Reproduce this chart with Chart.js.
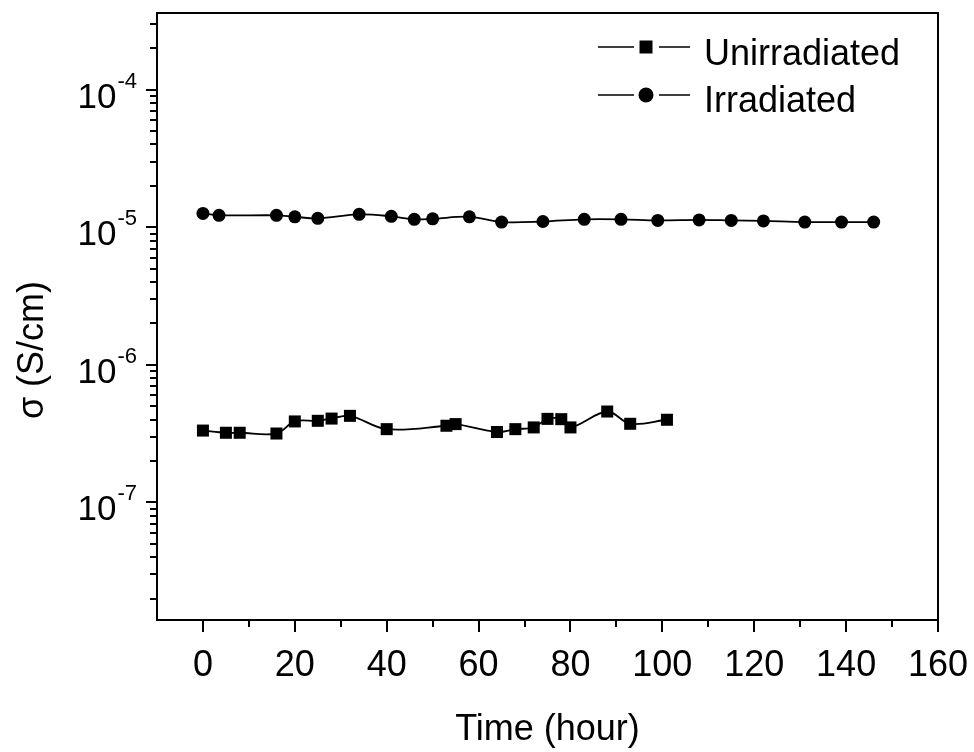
<!DOCTYPE html>
<html>
<head>
<meta charset="utf-8">
<script src="https://cdn.jsdelivr.net/npm/chart.js@4.4.0/dist/chart.umd.min.js"></script>
<style>
    html, body { margin: 0; padding: 0; background: #fff; }
    #wrap { width: 974px; height: 752px; }
</style>
</head>
<body>
<div id="wrap"><canvas id="sigmaChart"></canvas></div>
<script>
// Conductivity vs time
const unirrTime = [0, 5, 8, 16, 20, 25, 28, 32, 40, 53, 55, 64, 68, 72, 75, 78, 80, 88, 93, 101];
const unirrSigma = [3.33e-7, 3.21e-7, 3.21e-7, 3.17e-7, 3.88e-7, 3.92e-7, 4.07e-7, 4.26e-7, 3.41e-7, 3.61e-7,
    3.71e-7, 3.25e-7, 3.41e-7, 3.51e-7, 4.05e-7, 4.03e-7, 3.51e-7, 4.58e-7, 3.73e-7, 3.99e-7];
const irrTime = [0, 3.5, 16, 20, 25, 34, 41, 46, 50, 58, 65, 74, 83, 91, 99, 108, 115, 122, 131, 139, 146];
const irrSigma = [1.26e-5, 1.22e-5, 1.22e-5, 1.19e-5, 1.16e-5, 1.24e-5, 1.20e-5, 1.14e-5, 1.15e-5, 1.19e-5,
    1.09e-5, 1.10e-5, 1.14e-5, 1.14e-5, 1.12e-5, 1.13e-5, 1.12e-5, 1.11e-5, 1.09e-5, 1.09e-5, 1.09e-5];

const seriesNames = ['Unirradiated', 'Irradiated'];
const xMajorTicks = [0, 20, 40, 60, 80, 100, 120, 140, 160];
const xMinorTicks = [10, 30, 50, 70, 90, 110, 130, 150];
const yDecades = [-7, -6, -5, -4];
const xTitle = 'Time (hour)';
const yTitle = 'σ (S/cm)';

const FONT = '"Liberation Sans", Arial, Helvetica, sans-serif';

function toPoints(xs, ys) {
    return xs.map((x, i) => ({ x: x, y: ys[i] }));
}

// Draws frame, tick marks, log labels, y title and legend
const decorPlugin = {
    id: 'decor',
    afterDraw(chart) {
        const ctx = chart.ctx;
        const area = chart.chartArea;
        const xs = chart.scales.x;
        const ys = chart.scales.y;
        ctx.save();
        ctx.strokeStyle = '#000';
        ctx.fillStyle = '#000';

        // top and right frame
        ctx.lineWidth = 2;
        ctx.beginPath();
        ctx.moveTo(area.left, area.top);
        ctx.lineTo(area.right, area.top);
        ctx.lineTo(area.right, area.bottom);
        ctx.stroke();

        // x tick marks
        ctx.lineWidth = 2;
        ctx.beginPath();
        xMajorTicks.forEach(v => {
            const px = Math.round(xs.getPixelForValue(v));
            ctx.moveTo(px, area.bottom);
            ctx.lineTo(px, area.bottom + 12);
        });
        xMinorTicks.forEach(v => {
            const px = Math.round(xs.getPixelForValue(v));
            ctx.moveTo(px, area.bottom);
            ctx.lineTo(px, area.bottom + 7);
        });
        ctx.stroke();

        // y tick marks (log, with minors)
        ctx.beginPath();
        for (let e = -8; e <= -4; e++) {
            for (let m = 1; m <= 9; m++) {
                const v = m * Math.pow(10, e);
                if (v < ys.min || v > ys.max) continue;
                const py = Math.round(ys.getPixelForValue(v));
                ctx.moveTo(area.left, py);
                ctx.lineTo(area.left - (m === 1 ? 11 : 7), py);
            }
        }
        ctx.stroke();

        // y labels 10^n
        yDecades.forEach(e => {
            const py = ys.getPixelForValue(Math.pow(10, e));
            const sup = '-' + Math.abs(e);
            ctx.font = '22px ' + FONT;
            const supW = ctx.measureText(sup).width;
            const supX = area.left - 20 - supW;
            ctx.textAlign = 'left';
            ctx.textBaseline = 'alphabetic';
            ctx.fillText(sup, supX, py - 2);
            ctx.font = '35px ' + FONT;
            ctx.textAlign = 'right';
            ctx.fillText('10', supX - 1, py + 18);
        });

        // y title
        ctx.save();
        ctx.translate(33, 350);
        ctx.rotate(-Math.PI / 2);
        ctx.font = '36px ' + FONT;
        ctx.textAlign = 'center';
        ctx.textBaseline = 'middle';
        ctx.fillText(yTitle, 0, 0);
        ctx.restore();

        // legend
        const legendRows = [
            { y: 47, style: 'rect', text: seriesNames[0], base: 65 },
            { y: 95, style: 'circle', text: seriesNames[1], base: 112 }
        ];
        legendRows.forEach(row => {
            ctx.lineWidth = 1.5;
            ctx.beginPath();
            ctx.moveTo(598, row.y);
            ctx.lineTo(634, row.y);
            ctx.moveTo(659, row.y);
            ctx.lineTo(690, row.y);
            ctx.stroke();
            ctx.beginPath();
            if (row.style === 'rect') {
                ctx.rect(639.5, row.y - 6.5, 13, 13);
            } else {
                ctx.arc(646, row.y, 7.5, 0, Math.PI * 2);
            }
            ctx.fill();
            ctx.font = '36px ' + FONT;
            ctx.textAlign = 'left';
            ctx.textBaseline = 'alphabetic';
            ctx.fillText(row.text, 704, row.base);
        });

        ctx.restore();
    }
};

const ctx = document.getElementById('sigmaChart');
new Chart(ctx, {
    type: 'line',
    data: {
        datasets: [
            {
                label: seriesNames[0],
                data: toPoints(unirrTime, unirrSigma),
                borderColor: '#000',
                backgroundColor: '#000',
                borderWidth: 1.8,
                pointStyle: 'rect',
                pointRadius: 8.5,
                pointBorderWidth: 0,
                tension: 0.35,
                fill: false
            },
            {
                label: seriesNames[1],
                data: toPoints(irrTime, irrSigma),
                borderColor: '#000',
                backgroundColor: '#000',
                borderWidth: 1.8,
                pointStyle: 'circle',
                pointRadius: 6.5,
                pointBorderWidth: 0,
                tension: 0.35,
                fill: false
            }
        ]
    },
    options: {
        responsive: true,
        maintainAspectRatio: false,
        animation: false,
        layout: {
            padding: { top: 13, right: 36, left: 0, bottom: 0 }
        },
        plugins: {
            legend: { display: false },
            tooltip: { enabled: false }
        },
        scales: {
            x: {
                type: 'linear',
                min: -10,
                max: 160,
                afterBuildTicks: scale => {
                    scale.ticks = xMajorTicks.map(v => ({ value: v }));
                },
                afterFit: scale => {
                    scale.height = 132;
                    scale.paddingLeft = 0;
                    scale.paddingRight = 0;
                },
                grid: { display: false, drawTicks: false },
                border: { display: true, color: '#000', width: 2 },
                ticks: {
                    color: '#000',
                    padding: 24,
                    maxRotation: 0,
                    autoSkip: false,
                    font: { family: FONT, size: 36 }
                },
                title: {
                    display: true,
                    text: xTitle,
                    color: '#000',
                    padding: { top: 0, bottom: 0 },
                    font: { family: FONT, size: 36 }
                }
            },
            y: {
                type: 'logarithmic',
                min: 1.4e-8,
                max: 3.6e-4,
                afterFit: scale => {
                    scale.width = 157;
                    scale.paddingTop = 0;
                    scale.paddingBottom = 0;
                },
                grid: { display: false, drawTicks: false },
                border: { display: true, color: '#000', width: 2 },
                ticks: { display: false }
            }
        }
    },
    plugins: [decorPlugin]
});
</script>
</body>
</html>
